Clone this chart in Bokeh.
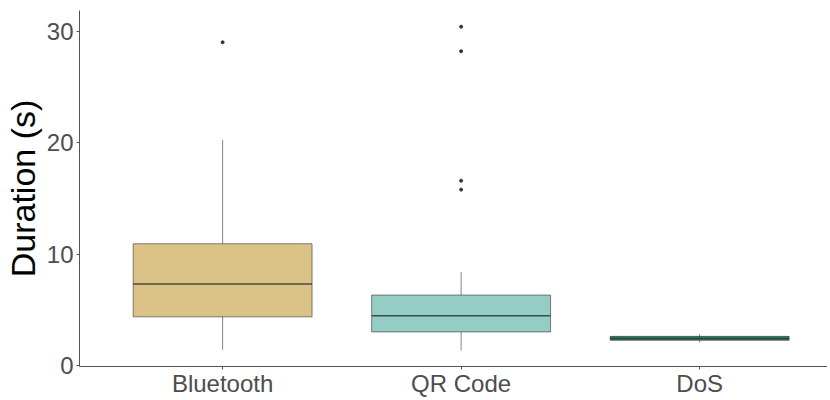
from bokeh.plotting import figure
from bokeh.models import Range1d, FixedTicker, ColumnDataSource
from bokeh.embed import file_html
from bokeh.resources import INLINE

# ---- data ----
categories = ["Bluetooth", "QR Code", "DoS"]
positions = [1, 2, 3]
q1 = [4.4, 3.05, 2.3]
median = [7.35, 4.5, 2.45]
q3 = [10.95, 6.35, 2.65]
whisker_low = [1.45, 1.4, 2.1]
whisker_high = [20.25, 8.4, 2.85]
fills = ["#DBC387", "#93CDC3", "#25876A"]
outlier_cat = [1, 2, 2, 2, 2]
outlier_val = [29.0, 30.4, 28.2, 16.6, 15.8]
y_ticks = [0, 10, 20, 30]

FONT = "Liberation Sans"
box_width = 0.75

p = figure(frame_width=748, frame_height=356, output_backend="svg", toolbar_location=None,
           x_range=Range1d(0.4, 3.536), y_range=Range1d(-0.05, 31.85),
           min_border_left=71, min_border_right=0, min_border_top=10,
           min_border_bottom=0)
p.outline_line_color = None
p.background_fill_color = "white"
p.border_fill_color = "white"
p.xgrid.visible = False
p.ygrid.visible = False

src = ColumnDataSource(dict(x=positions, q1=q1, med=median, q3=q3,
                            lo=whisker_low, hi=whisker_high, fill=fills,
                            x0=[v - box_width / 2 for v in positions],
                            x1=[v + box_width / 2 for v in positions]))

# whiskers
p.segment(x0="x", x1="x", y0="lo", y1="hi", source=src,
          line_color="#333333", line_alpha=0.6, line_width=1)
# boxes
p.vbar(x="x", width=box_width, bottom="q1", top="q3", source=src,
       fill_color="fill", line_color="#333333", line_alpha=0.6, line_width=1)
# medians
p.segment(x0="x0", x1="x1", y0="med", y1="med", source=src,
          line_color="#333333", line_alpha=0.85, line_width=1.5)
# outliers
p.scatter(outlier_cat, outlier_val, size=3, color="#333333", marker="circle")

# axes
p.xaxis.ticker = FixedTicker(ticks=positions)
p.xaxis.major_label_overrides = {pos: c for pos, c in zip(positions, categories)}
p.yaxis.ticker = FixedTicker(ticks=y_ticks)
for ax in (p.xaxis[0], p.yaxis[0]):
    ax.axis_line_color = "#555555"
    ax.axis_line_width = 1
    ax.major_tick_line_color = "#555555"
    ax.major_tick_in = 0
    ax.major_tick_out = 3
    ax.minor_tick_line_color = None
    ax.major_label_text_font = FONT
    ax.major_label_text_color = "#4d4d4d"

p.xaxis.major_label_text_font_size = "24px"
p.xaxis.major_label_standoff = 0
p.xaxis.axis_label_standoff = 0
p.xaxis.axis_label_text_font_size = "0px"
p.yaxis.major_label_text_font_size = "24px"
p.yaxis.major_label_standoff = 3
p.yaxis.axis_label = "Duration (s)"
p.yaxis.axis_label_text_font = FONT
p.yaxis.axis_label_text_font_size = "34px"
p.yaxis.axis_label_text_font_style = "normal"
p.yaxis.axis_label_text_color = "black"
p.yaxis.axis_label_standoff = 2

open("out.html", "w").write(file_html(p, INLINE))
